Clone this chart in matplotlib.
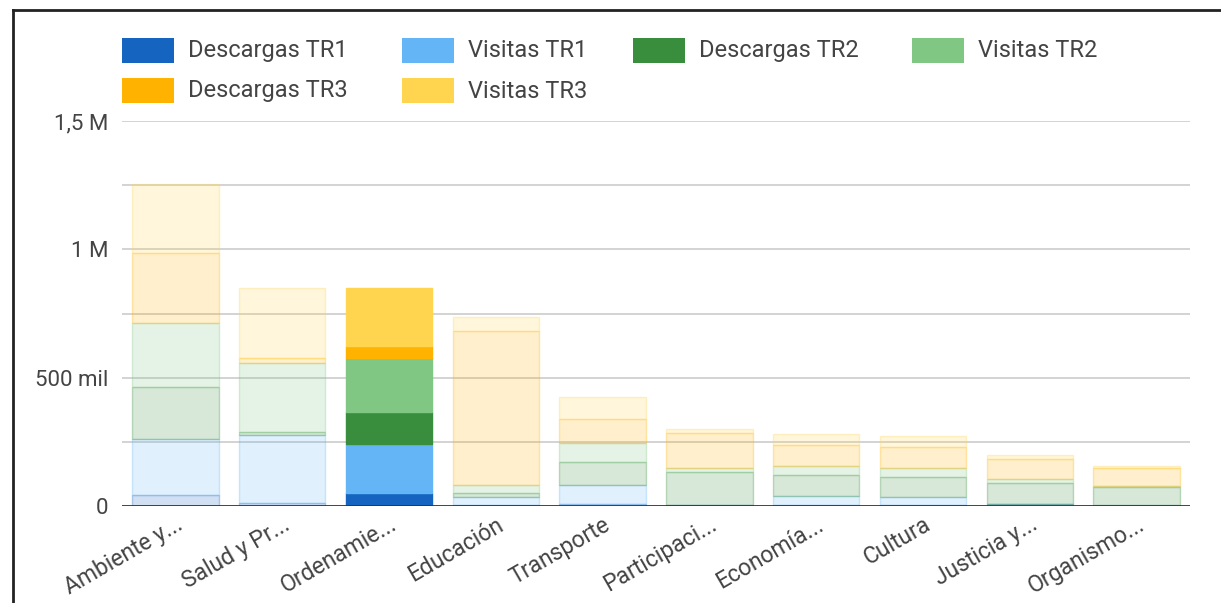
"""Stacked bars: descargas / visitas per trimestre, one category highlighted."""

import matplotlib
matplotlib.use('Agg')

import matplotlib.pyplot as plt
import matplotlib.patches as mpatches
from matplotlib.colors import to_rgba
from matplotlib.ticker import FixedLocator
import numpy as np

plt.rcParams['font.family'] = ['Roboto', 'DejaVu Sans']

CATEGORIES = ['Ambiente y...', 'Salud y Pr...', 'Ordenamie...', 'Educación',
              'Transporte', 'Participaci...', 'Economía...', 'Cultura',
              'Justicia y...', 'Organismo...']

SERIES = ['Descargas TR1', 'Visitas TR1', 'Descargas TR2', 'Visitas TR2',
          'Descargas TR3', 'Visitas TR3']
COLORS = ['#1565C0', '#64B5F6', '#388E3C', '#81C784', '#FFB300', '#FFD54F']

descargas_tr1 = [43000, 12000, 51000, 5000, 8000, 2000, 5000, 5000, 6000, 1000]
visitas_tr1 = [218000, 265000, 191000, 30000, 74000, 3000, 34000, 30000, 2000, 2000]
descargas_tr2 = [203000, 12000, 125000, 16000, 89000, 127000, 82000, 78000, 82000, 71000]
visitas_tr2 = [249000, 269000, 210000, 31000, 74000, 16000, 35000, 35000, 15000, 4000]
descargas_tr3 = [273000, 19000, 47000, 600000, 94000, 136000, 82000, 82000, 78000, 70000]
visitas_tr3 = [269000, 273000, 226000, 54000, 86000, 16000, 43000, 43000, 16000, 8000]

HIGHLIGHT = 2          # the selected category keeps full colour
Y_TICKS = [0, 500000, 1000000, 1500000]
Y_TICK_LABELS = ['0', '500 mil', '1 M', '1,5 M']
Y_MINOR = [250000, 750000, 1250000]

TEXT = '#444444'
W, H = 1221, 603


def legend(fig) -> None:
    # Google-style legend, laid out by hand in pixel positions
    cols = [122, 402, 633, 912]
    rows = [50.5, 91]
    slots = [(0, 0), (0, 1), (0, 2), (0, 3), (1, 0), (1, 1)]
    for name, color, (r, c) in zip(SERIES, COLORS, slots):
        x0, yc = cols[c], rows[r]
        fig.add_artist(mpatches.Rectangle(
            (x0 / W, 1 - (yc + 12.5) / H), 52 / W, 25 / H,
            transform=fig.transFigure, facecolor=color, edgecolor='none'))
        fig.text((x0 + 66) / W, 1 - yc / H, name, ha='left', va='center',
                 fontsize=17, color=TEXT)


def main() -> None:
    fig = plt.figure(figsize=(W / 100, H / 100), dpi=100)
    ax = fig.add_axes([122 / W, 97 / H, 1068 / W, 385 / H])

    values = [descargas_tr1, visitas_tr1, descargas_tr2, visitas_tr2,
              descargas_tr3, visitas_tr3]
    x = np.arange(len(CATEGORIES))
    bottom = np.zeros(len(CATEGORIES))
    for vals, color in zip(values, COLORS):
        vals = np.asarray(vals, dtype=float)
        faces = [to_rgba(color, 1.0 if i == HIGHLIGHT else 0.2) for i in x]
        edges = [to_rgba(color, 1.0 if i == HIGHLIGHT else 0.3) for i in x]
        ax.bar(x, vals, bottom=bottom, width=0.81, color=faces,
               edgecolor=edges, linewidth=1.0, zorder=3)
        bottom += vals

    ax.set_xlim(-0.5, len(CATEGORIES) - 0.5)
    ax.set_ylim(0, 1500000)
    ax.yaxis.set_major_locator(FixedLocator(Y_TICKS))
    ax.set_yticklabels(Y_TICK_LABELS)
    for y in Y_TICKS[1:] + Y_MINOR:
        ax.axhline(y, color='#cccccc', lw=1.2, zorder=1)
    ax.axhline(0, color='#333333', lw=2.0, zorder=4)

    ax.set_xticks(x)
    ax.set_xticklabels(CATEGORIES, rotation=30, ha='right',
                       rotation_mode='anchor', fontsize=16.5, color=TEXT)
    ax.tick_params(axis='x', length=0, pad=5)
    ax.tick_params(axis='y', length=0, pad=10, labelsize=16, labelcolor=TEXT)
    for s in ax.spines.values():
        s.set_visible(False)

    legend(fig)

    # outer frame (left and top edges only are visible)
    fig.add_artist(plt.Line2D([13 / W, 13 / W], [0, 1 - 10 / H],
                              transform=fig.transFigure, color='#222222', lw=2))
    fig.add_artist(plt.Line2D([13 / W, 1], [1 - 10 / H, 1 - 10 / H],
                              transform=fig.transFigure, color='#222222', lw=2))

    fig.savefig('out.png', dpi=100, facecolor='white')
    plt.close(fig)


if __name__ == '__main__':
    main()
